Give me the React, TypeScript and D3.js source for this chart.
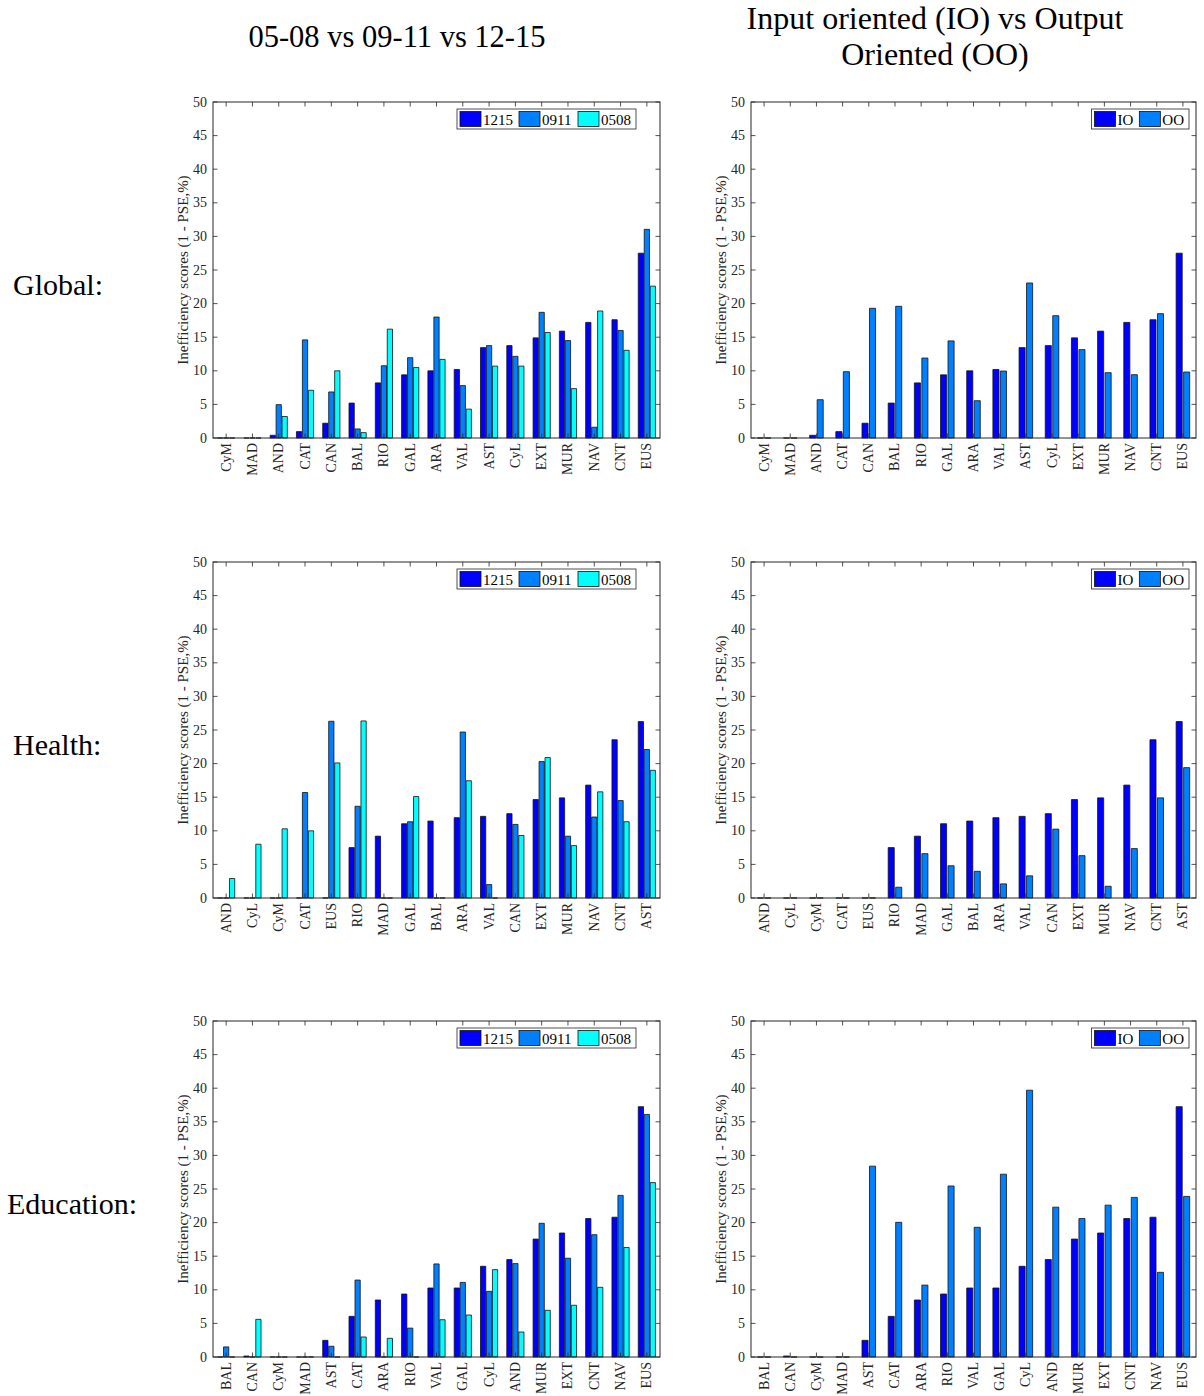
import * as d3 from "d3";

// regions per row (x-axis order differs per row)
const globalRegions = ["CyM", "MAD", "AND", "CAT", "CAN", "BAL", "RIO", "GAL", "ARA", "VAL", "AST", "CyL", "EXT", "MUR", "NAV", "CNT", "EUS"];
const healthRegions = ["AND", "CyL", "CyM", "CAT", "EUS", "RIO", "MAD", "GAL", "BAL", "ARA", "VAL", "CAN", "EXT", "MUR", "NAV", "CNT", "AST"];
const educationRegions = ["BAL", "CAN", "CyM", "MAD", "AST", "CAT", "ARA", "RIO", "VAL", "GAL", "CyL", "AND", "MUR", "EXT", "CNT", "NAV", "EUS"];

// Global
const global1215 = [0, 0, 0.4, 0.95, 2.2, 5.2, 8.2, 9.4, 10.0, 10.2, 13.45, 13.75, 14.9, 15.9, 17.2, 17.6, 27.5];
const global0911 = [0, 0, 4.96, 14.6, 6.85, 1.35, 10.75, 11.95, 18.0, 7.8, 13.75, 12.15, 18.7, 14.5, 1.6, 16.0, 31.05];
const global0508 = [0, 0, 3.2, 7.1, 10.0, 0.8, 16.2, 10.5, 11.7, 4.3, 10.7, 10.7, 15.7, 7.35, 18.9, 13.05, 22.6];
const globalIO = [0, 0, 0.4, 0.95, 2.2, 5.2, 8.2, 9.4, 10.0, 10.2, 13.45, 13.75, 14.9, 15.9, 17.2, 17.6, 27.5];
const globalOO = [0, 0, 5.7, 9.87, 19.3, 19.6, 11.9, 14.45, 5.55, 9.97, 23.07, 18.2, 13.15, 9.72, 9.42, 18.5, 9.82];

// Health
const health1215 = [0, 0, 0, 0, 0, 7.5, 9.2, 11.05, 11.45, 11.95, 12.15, 12.55, 14.65, 14.9, 16.8, 23.55, 26.25];
const health0911 = [0, 0, 0, 15.7, 26.3, 13.65, 0, 11.35, 0, 24.7, 2.0, 10.95, 20.3, 9.2, 12.05, 14.5, 22.1];
const health0508 = [2.9, 8.0, 10.3, 10.0, 20.1, 26.35, 0, 15.1, 0, 17.45, 0, 9.3, 20.9, 7.8, 15.8, 11.35, 19.0];
const healthIO = [0, 0, 0, 0, 0, 7.5, 9.2, 11.05, 11.45, 11.95, 12.15, 12.55, 14.65, 14.9, 16.8, 23.55, 26.25];
const healthOO = [0, 0, 0, 0, 0, 1.6, 6.6, 4.8, 3.97, 2.1, 3.3, 10.25, 6.3, 1.75, 7.35, 14.9, 19.4];

// Education
const education1215 = [0, 0.15, 0, 0, 2.48, 6.05, 8.48, 9.37, 10.27, 10.27, 13.5, 14.5, 17.55, 18.45, 20.6, 20.8, 37.25];
const education0911 = [1.5, 0, 0, 0, 1.6, 11.45, 0, 4.3, 13.85, 11.1, 9.77, 13.9, 19.9, 14.7, 18.2, 24.05, 36.1];
const education0508 = [0, 5.6, 0, 0, 0, 2.98, 2.78, 0, 5.55, 6.25, 13.0, 3.72, 6.95, 7.7, 10.37, 16.3, 25.95];
const educationIO = [0, 0.15, 0, 0, 2.48, 6.05, 8.48, 9.37, 10.27, 10.27, 13.5, 14.5, 17.55, 18.45, 20.6, 20.8, 37.25];
const educationOO = [0, 0, 0, 0, 28.4, 20.04, 10.7, 25.45, 19.3, 27.2, 39.7, 22.3, 20.6, 22.6, 23.75, 12.6, 23.9];

const yTicks = [0, 5, 10, 15, 20, 25, 30, 35, 40, 45, 50];
const periodNames = ["1215", "0911", "0508"];
const orientNames = ["IO", "OO"];
const rowLabels = ["Global:", "Health:", "Education:"];

const colors: Record<string, string> = {
  "1215": "#0000ff",
  "0911": "#0080ff",
  "0508": "#00ffff",
  IO: "#0000ff",
  OO: "#0080ff",
};

const FONT = "'Liberation Serif', 'Times New Roman', serif";
const AXIS = "#262626";

type Series = { name: string; values: number[] };

// rough Times widths at 15px for the legend entries
function textW(s: string) {
  const w: Record<string, number> = { I: 0.333, O: 0.722 };
  return s.split("").reduce((a, c) => a + (w[c] ?? 0.5), 0) * 15;
}

function Panel({ left, right, top, bottom, categories, series, legendRight }: {
  left: number; right: number; top: number; bottom: number;
  categories: string[]; series: Series[]; legendRight: number;
}) {
  const n = categories.length;
  const x = d3.scaleLinear().domain([0.5, n + 0.5]).range([left, right]);
  const y = d3.scaleLinear().domain([0, 50]).range([bottom, top]);
  const nb = series.length;
  const step = nb === 3 ? 0.227 : 0.286;
  const bw = nb === 3 ? 0.2 : 0.232;
  const tick = 4.5;

  // legend layout
  const entries = series.map((s) => ({ name: s.name, w: 25 + textW(s.name) + 4 }));
  const legW = entries.reduce((a, e) => a + e.w, 0) + 2;
  const legX = legendRight - legW;
  const legY = top + 7;
  let cursor = legX + 3;

  return (
    <g>
      <rect x={left} y={top} width={right - left} height={bottom - top} fill="#fff" />
      {series.map((s, si) =>
        s.values.map((v, i) => {
          const c = i + 1 + (si - (nb - 1) / 2) * step;
          const x0 = x(c - bw / 2);
          const x1 = x(c + bw / 2);
          const p = d3.path();
          p.moveTo(x0, y(0));
          p.lineTo(x0, y(v));
          p.lineTo(x1, y(v));
          p.lineTo(x1, y(0));
          p.closePath();
          return <path key={`${si}-${i}`} d={p.toString()} fill={colors[s.name]} stroke="#111" strokeWidth={0.8} />;
        })
      )}
      {/* box */}
      <rect x={left} y={top} width={right - left} height={bottom - top} fill="none" stroke={AXIS} strokeWidth={1} />
      {categories.map((c, i) => (
        <g key={c + i}>
          <line x1={x(i + 1)} x2={x(i + 1)} y1={bottom} y2={bottom - tick} stroke={AXIS} strokeWidth={0.8} />
          <line x1={x(i + 1)} x2={x(i + 1)} y1={top} y2={top + tick} stroke={AXIS} strokeWidth={0.8} />
          <text
            transform={`translate(${x(i + 1)},${bottom + 5}) rotate(-90)`}
            textAnchor="end"
            dominantBaseline="central"
            fontSize={14}
            fill={AXIS}
          >
            {c}
          </text>
        </g>
      ))}
      {yTicks.map((t) => (
        <g key={t}>
          <line x1={left} x2={left + tick} y1={y(t)} y2={y(t)} stroke={AXIS} strokeWidth={0.8} />
          <line x1={right} x2={right - tick} y1={y(t)} y2={y(t)} stroke={AXIS} strokeWidth={0.8} />
          <text x={left - 6} y={y(t)} textAnchor="end" dominantBaseline="central" fontSize={14} fill={AXIS}>
            {t}
          </text>
        </g>
      ))}
      <text
        transform={`translate(${left - 30},${(top + bottom) / 2}) rotate(-90)`}
        textAnchor="middle"
        dominantBaseline="central"
        fontSize={15}
        fill={AXIS}
      >
        Inefficiency scores (1 - PSE,%)
      </text>
      {/* legend */}
      <rect x={legX} y={legY} width={legW} height={20} fill="#fff" stroke={AXIS} strokeWidth={0.8} />
      {entries.map((e) => {
        const ex = cursor;
        cursor += e.w;
        return (
          <g key={e.name}>
            <rect x={ex} y={legY + 2.5} width={21} height={15} fill={colors[e.name]} stroke="#111" strokeWidth={0.8} />
            <text x={ex + 23} y={legY + 10.5} dominantBaseline="central" fontSize={15} fill="#000">
              {e.name}
            </text>
          </g>
        );
      })}
    </g>
  );
}

export default function App() {
  const rows = [
    { cats: globalRegions, periods: [global1215, global0911, global0508], orient: [globalIO, globalOO] },
    { cats: healthRegions, periods: [health1215, health0911, health0508], orient: [healthIO, healthOO] },
    { cats: educationRegions, periods: [education1215, education0911, education0508], orient: [educationIO, educationOO] },
  ];
  const tops = [102, 562, 1021];
  const h = 336;
  const labelX = [13, 13, 7];

  return (
    <svg
      width={1204}
      height={1396}
      viewBox="0 0 1204 1396"
      style={{ position: "absolute", left: 0, top: 0, background: "#fff" }}
      fontFamily={FONT}
    >
      <rect width={1204} height={1396} fill="#fff" />
      <text x={397} y={47} textAnchor="middle" fontSize={30.5} fill="#000">
        05-08 vs 09-11 vs 12-15
      </text>
      <text x={935} y={29} textAnchor="middle" fontSize={32} fill="#000">
        Input oriented (IO) vs Output
      </text>
      <text x={935} y={65} textAnchor="middle" fontSize={32} fill="#000">
        Oriented (OO)
      </text>
      {rows.map((r, ri) => (
        <g key={ri}>
          <text x={labelX[ri]} y={tops[ri] + 193} fontSize={30} fill="#000">
            {rowLabels[ri]}
          </text>
          <Panel
            left={213}
            right={660}
            top={tops[ri]}
            bottom={tops[ri] + h}
            categories={r.cats}
            series={periodNames.map((name, i) => ({ name, values: r.periods[i] }))}
            legendRight={636}
          />
          <Panel
            left={751}
            right={1196}
            top={tops[ri]}
            bottom={tops[ri] + h}
            categories={r.cats}
            series={orientNames.map((name, i) => ({ name, values: r.orient[i] }))}
            legendRight={1189}
          />
        </g>
      ))}
    </svg>
  );
}
